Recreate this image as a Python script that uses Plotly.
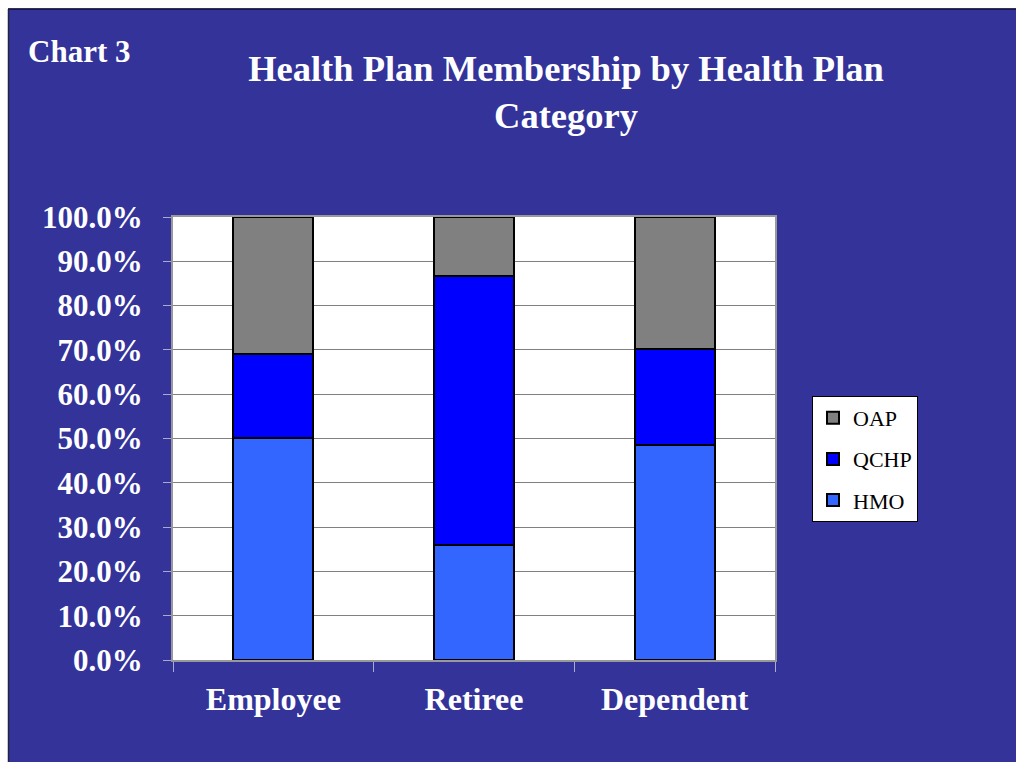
import plotly.graph_objects as go

categories = ["Employee", "Retiree", "Dependent"]
hmo = [50.1, 26.0, 48.5]
qchp = [19.0, 60.7, 21.7]
oap = [30.9, 13.3, 29.8]
y_ticks = [0, 10, 20, 30, 40, 50, 60, 70, 80, 90, 100]

BG = "#333399"
SERIF = "Liberation Serif"

W, H = 1016, 762
L, R, T, B = 173, 775, 217, 660

fig = go.Figure()
for name, vals, col, rank in [("HMO", hmo, "#3366FF", 3), ("QCHP", qchp, "#0000FF", 2), ("OAP", oap, "#808080", 1)]:
    fig.add_trace(go.Bar(
        x=categories, y=vals, name=name, legendgroup=name, legendrank=rank,
        marker=dict(color=col, line=dict(color="black", width=2)),
        width=0.4,
    ))

def px_to_paper_x(px):
    return (px - L) / (R - L)

def px_to_paper_y(py):
    return (B - py) / (B - T)

fig.update_layout(
    width=W, height=H,
    margin=dict(l=L, r=W - R, t=T, b=H - B, pad=0),
    paper_bgcolor=BG,
    plot_bgcolor="white",
    barmode="stack",
    bargap=0.6,
    font=dict(family=SERIF, color="white"),
    title=dict(
        text="<b>Health Plan Membership by Health Plan<br>Category</b>",
        x=566 / W, xref="container", xanchor="center",
        y=1 - 81 / H, yref="container", yanchor="top",
        font=dict(family=SERIF, size=36.5, color="white"),
    ),
    showlegend=True,
    legend=dict(
        x=px_to_paper_x(812), y=px_to_paper_y(396),
        xanchor="left", yanchor="top",
        bgcolor="white", bordercolor="black", borderwidth=1,
        font=dict(family=SERIF, size=22, color="black"),
        traceorder="grouped",
        tracegroupgap=9.5,
        itemwidth=30,
    ),
    xaxis=dict(
        type="category",
        showline=True, linecolor="#999999", linewidth=2, mirror=True,
        ticks="outside", tickson="boundaries", ticklen=10, tickcolor="#aaaacc",
        tickfont=dict(family=SERIF, size=32, color="white", weight="bold"),
        ticklabelstandoff=10,
    ),
    yaxis=dict(
        range=[0, 100],
        tickvals=y_ticks,
        ticktext=[f"{v:.1f}%" for v in y_ticks],
        showgrid=True, gridcolor="#808080", gridwidth=1,
        showline=True, linecolor="#999999", linewidth=2, mirror=True,
        ticks="outside", ticklen=8, tickcolor="#aaaacc",
        tickfont=dict(family=SERIF, size=31, color="white", weight="bold"),
        ticklabelstandoff=14,
        zeroline=False,
    ),
    shapes=[
        dict(type="rect", xref="paper", yref="paper",
             x0=px_to_paper_x(0), x1=px_to_paper_x(W), y0=px_to_paper_y(0), y1=px_to_paper_y(8.5),
             fillcolor="white", line=dict(width=0), layer="above"),
        dict(type="rect", xref="paper", yref="paper",
             x0=px_to_paper_x(0), x1=px_to_paper_x(8), y0=px_to_paper_y(0), y1=px_to_paper_y(H),
             fillcolor="white", line=dict(width=0), layer="above"),
        dict(type="line", xref="paper", yref="paper",
             x0=px_to_paper_x(8), x1=px_to_paper_x(W), y0=px_to_paper_y(9), y1=px_to_paper_y(9),
             line=dict(color="#111133", width=1.5), layer="above"),
        dict(type="line", xref="paper", yref="paper",
             x0=px_to_paper_x(8.5), x1=px_to_paper_x(8.5), y0=px_to_paper_y(9), y1=px_to_paper_y(H),
             line=dict(color="#222244", width=1.5), layer="above"),
    ],
    annotations=[
        dict(text="<b>Chart 3</b>", xref="paper", yref="paper",
             x=px_to_paper_x(26), y=px_to_paper_y(51),
             xanchor="left", yanchor="middle", showarrow=False,
             font=dict(family=SERIF, size=31, color="white")),
    ],
)

fig.write_html("out.html")
